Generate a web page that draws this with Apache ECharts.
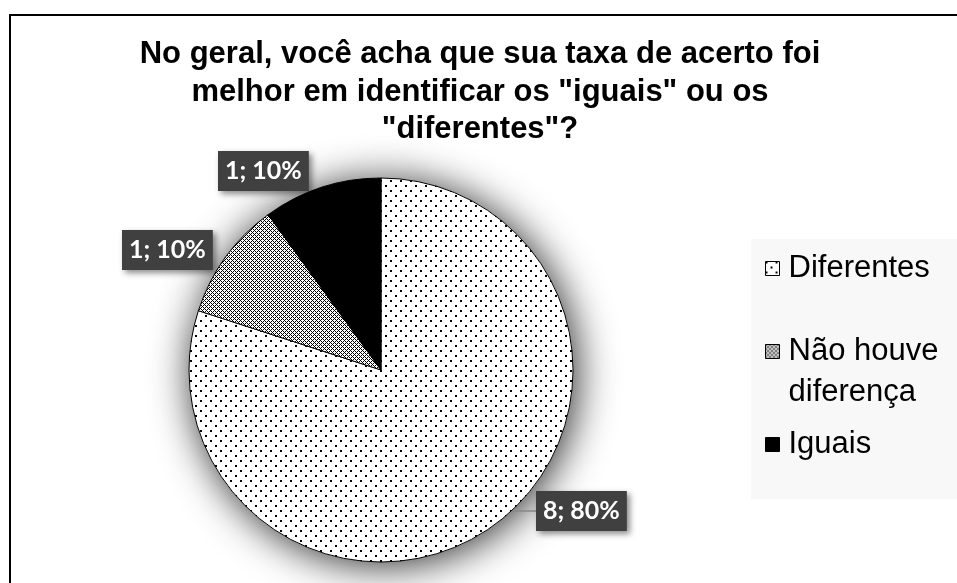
<!DOCTYPE html>
<html>
<head>
<meta charset="utf-8">
<script src="https://cdn.jsdelivr.net/npm/echarts@6/dist/echarts.min.js"></script>
<style>
  html, body { margin: 0; padding: 0; background: #fff; }
  #chart { width: 957px; height: 583px; }
</style>
</head>
<body>
<div id="chart"></div>
<script>
// Survey answers
const categories = ['Diferentes', 'Não houve diferença', 'Iguais'];
const counts = [8, 1, 1];
const titleText = 'No geral, você acha que sua taxa de acerto foi\nmelhor em identificar os "iguais" ou os\n"diferentes"?';

// Where each value label box sits (left, top)
const labelBoxes = [[536, 491], [122, 230], [218, 151]];

// Pattern tiles for the slices
function makeTile(size, paint) {
  const c = document.createElement('canvas');
  c.width = size; c.height = size;
  const g = c.getContext('2d');
  g.fillStyle = '#fff';
  g.fillRect(0, 0, size, size);
  g.fillStyle = '#000';
  paint(g, size);
  return c;
}
const dotted = makeTile(10, (g) => {
  g.fillRect(0, 0, 2, 2);
  g.fillRect(5, 5, 2, 2);
});
const lattice = makeTile(4, (g, s) => {
  for (let x = 0; x < s; x++) {
    for (let y = 0; y < s; y++) {
      if ((x + y) % 4 === 0 || (x - y + 4) % 4 === 0) g.fillRect(x, y, 1, 1);
    }
  }
});
const fills = [
  { image: dotted, repeat: 'repeat' },
  { image: lattice, repeat: 'repeat' },
  '#000'
];

const total = counts.reduce((a, b) => a + b, 0);
const pieData = categories.map((name, i) => ({
  name: name,
  value: counts[i],
  itemStyle: { color: fills[i] },
  labelLine: { show: i === 0 }
}));

const center = [381, 370];
const radius = 192;

const legendBase = {
  orient: 'vertical',
  left: 765,
  padding: 0,
  icon: 'rect',
  itemWidth: 14,
  itemHeight: 14,
  selectedMode: false,
  itemStyle: { borderColor: '#000', borderWidth: 1 },
  textStyle: {
    fontFamily: 'Liberation Sans, Arial, sans-serif',
    fontSize: 31,
    lineHeight: 41,
    color: '#000',
    padding: [0, 0, 0, 4]
  }
};

const chart = echarts.init(document.getElementById('chart'), null, { renderer: 'canvas' });
chart.setOption({
  backgroundColor: '#fff',
  animation: false,
  title: {
    text: titleText,
    left: 480,
    top: 36,
    padding: 0,
    textAlign: 'center',
    textStyle: {
      fontFamily: 'Liberation Sans, Arial, sans-serif',
      fontWeight: 'bold',
      fontSize: 31,
      lineHeight: 37.5,
      color: '#000'
    }
  },
  graphic: [
    {
      type: 'rect',
      z: 0,
      shape: { x: 751, y: 239, width: 220, height: 260 },
      style: { fill: '#f8f8f8' }
    },
    {
      type: 'rect',
      z: 0,
      shape: { x: 10, y: 15, width: 1000, height: 1000 },
      style: { fill: 'none', stroke: '#000', lineWidth: 2 }
    }
  ],
  legend: [
    Object.assign({}, legendBase, { data: [categories[0]], top: 248 }),
    Object.assign({}, legendBase, {
      data: [categories[1]],
      top: 290,
      // blank first line keeps the icon level with "Não houve"
      formatter: () => ' \nNão houve\ndiferença'
    }),
    Object.assign({}, legendBase, { data: [categories[2]], top: 424 })
  ],
  series: [
    {
      type: 'pie',
      z: 3,
      center: center,
      radius: radius,
      startAngle: 90,
      clockwise: true,
      avoidLabelOverlap: false,
      data: pieData,
      emphasis: { disabled: true },
      itemStyle: { borderColor: '#000', borderWidth: 1 },
      label: {
        show: true,
        formatter: (p) => p.value + '; ' + Math.round(p.value / total * 100) + '%',
        color: '#fff',
        fontFamily: 'Lato, sans-serif',
        fontWeight: 'bold',
        fontSize: 25,
        lineHeight: 24,
        backgroundColor: '#404040',
        padding: [8, 7],
        shadowColor: 'rgba(0,0,0,0.45)',
        shadowBlur: 6,
        shadowOffsetX: 3,
        shadowOffsetY: 3
      },
      labelLine: {
        show: true,
        lineStyle: { color: '#888', width: 1.5 }
      },
      labelLayout: (params) => {
        const b = labelBoxes[params.dataIndex];
        return { x: b[0], y: b[1], align: 'left', verticalAlign: 'top' };
      }
    },
    {
      // soft drop shadow beneath the pie
      type: 'pie',
      z: 1,
      silent: true,
      center: center,
      radius: radius,
      startAngle: 90,
      data: categories.map((name, i) => ({ name: name, value: counts[i] })),
      label: { show: false },
      labelLine: { show: false },
      itemStyle: {
        color: '#fff',
        shadowBlur: 40,
        shadowColor: 'rgba(0,0,0,0.85)',
        shadowOffsetX: 3,
        shadowOffsetY: 3
      }
    }
  ]
});
</script>
</body>
</html>
